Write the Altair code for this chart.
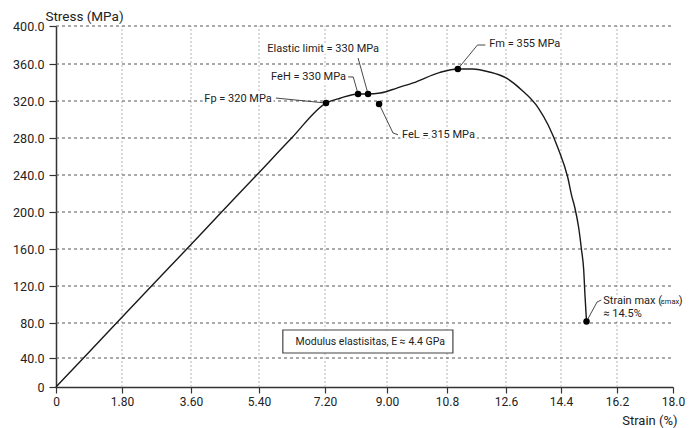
import altair as alt
import pandas as pd

# ---- axis ticks ----
x_ticks = [0, 1.8, 3.6, 5.4, 7.2, 9.0, 10.8, 12.6, 14.4, 16.2, 18.0]
x_tick_labels = ["0", "1.80", "3.60", "5.40", "7.20", "9.00", "10.8", "12.6", "14.4", "16.2", "18.0"]
y_ticks = [0, 40, 80, 120, 160, 200, 240, 280, 320, 360, 400]
y_tick_labels = ["0", "40.0", "80.0", "120.0", "160.0", "200.0", "240.0", "280.0", "320.0", "360.0", "400.0"]

# ---- stress-strain curve ----
strain = [0, 0.75, 1.65, 2.57, 3.49, 4.41, 5.34, 6.29, 7.23, 7.64, 8.16, 8.45, 8.80, 9.30, 9.78,
          10.59, 11.13, 11.58, 12.09, 12.6, 13.11, 13.66, 13.98, 14.30, 14.62, 14.74, 14.84,
          14.97, 15.06, 15.13, 15.17, 15.22]
stress = [0, 40, 80, 120, 160, 200, 240, 280, 317.8, 323, 327.6, 327.6, 328.6, 334, 339.5,
          351, 354.6, 354.6, 351.4, 344.9, 332, 312.4, 294, 269.2, 237, 218, 205.4,
          182.7, 158.9, 137.3, 110.3, 81.7]

# ---- key points ----
pt_names = ["Fp", "FeH", "Elastic", "FeL", "Fm", "Max"]
pt_strain = [7.23, 8.16, 8.45, 8.77, 11.13, 15.22]
pt_stress = [317.8, 327.6, 327.6, 316.8, 354.6, 81.7]

# ---- leader lines (id, strain, stress) ----
lead_id = ["el", "el", "feh", "feh", "feh", "fp", "fp", "fel", "fel", "fel", "fm", "fm", "fm", "mx", "mx", "mx"]
lead_x = [8.16, 8.45, 7.87, 8.02, 8.16, 5.86, 7.23, 8.77, 9.18, 9.33, 11.13, 11.73, 11.97, 15.22, 15.56, 15.70]
lead_y = [366.3, 327.6, 346, 346, 327.6, 323.2, 317.8, 316.8, 285.4, 283.5, 354.6, 380, 380, 81.7, 102.7, 104.9]

# ---- labels ----
lab_text = ["Elastic limit = 330 MPa", "FeH = 330 MPa", "Fp = 320 MPa", "FeL = 315 MPa",
            "Fm = 355 MPa", "\u2248 14.5%"]
lab_x = [7.15, 7.81, 5.75, 9.45, 12.09, 15.76]
lab_y = [375.8, 346, 322.2, 283.5, 381, 89.7]
lab_align = ["center", "right", "right", "left", "left", "left"]

max_x = 15.76
max_y = 103.8
max_parts = ["Strain max (", "\u03b5max", ")"]

box_text = "Modulus elastisitas, E \u2248 4.4 GPa"
box_x = [6.05, 10.98]
box_y = [45.7, 72.0]

FONT = "Roboto"
INK = "#222222"

xs = alt.Scale(domain=x_ticks, range=[0, 66, 135, 203, 269, 331, 391, 450, 505, 561, 617],
               nice=False, zero=False)
ys = alt.Scale(domain=y_ticks, range=[361, 332, 297, 260, 223, 186, 149, 112, 75, 38, 0],
               nice=False, zero=False)

x_label_expr = "[" + ",".join("'%s'" % s for s in x_tick_labels) + "][indexof([" + \
    ",".join(str(v) for v in x_ticks) + "], datum.value)]"
y_label_expr = "[" + ",".join("'%s'" % s for s in y_tick_labels) + "][indexof([" + \
    ",".join(str(v) for v in y_ticks) + "], datum.value)]"

x_axis = alt.Axis(values=x_ticks, labelExpr=x_label_expr, title="Strain (%)", grid=False,
                  domainColor="#333333", domainWidth=1.5, tickColor="#333333", tickSize=6,
                  tickWidth=1.2, labelFont=FONT, labelFontSize=12, labelColor=INK, labelPadding=3,
                  labelFlush=False, labelOverlap=False,
                  titleFont=FONT, titleFontSize=13, titleFontWeight="normal", titleColor=INK,
                  titleAlign="right", titleBaseline="middle", titleX=621, titleY=33)
y_axis = alt.Axis(values=y_ticks, labelExpr=y_label_expr, title="Stress (MPa)", grid=False,
                  domainColor="#333333", domainWidth=1.5, tickColor="#333333", tickSize=7,
                  tickWidth=1.2, labelFont=FONT, labelFontSize=12.5, labelColor=INK, labelPadding=5,
                  labelFlush=False, labelOverlap=False,
                  titleFont=FONT, titleFontSize=13.5, titleFontWeight="normal", titleColor=INK,
                  titleAngle=0, titleAlign="center", titleBaseline="top", titleX=28, titleY=-17)


def X(field=None, **kw):
    if field is None:
        return alt.X(scale=xs, axis=x_axis, **kw)
    return alt.X(field, type="quantitative", scale=xs, axis=x_axis)


def Y(field=None, **kw):
    if field is None:
        return alt.Y(scale=ys, axis=y_axis, **kw)
    return alt.Y(field, type="quantitative", scale=ys, axis=y_axis)


curve_df = pd.DataFrame({"x": strain, "y": stress})
pts_df = pd.DataFrame({"name": pt_names, "x": pt_strain, "y": pt_stress})
lead_df = pd.DataFrame({"id": lead_id, "x": lead_x, "y": lead_y, "o": list(range(len(lead_x)))})
lab_df = pd.DataFrame({"t": lab_text, "x": lab_x, "y": lab_y, "a": lab_align})
vgrid_df = pd.DataFrame({"x": x_ticks[1:-1]})
hgrid_df = pd.DataFrame({"y": y_ticks[1:]})
box_df = pd.DataFrame({"x": [box_x[0]], "x2": [box_x[1]], "y": [box_y[0]], "y2": [box_y[1]],
                       "t": [box_text], "xc": [(box_x[0] + box_x[1]) / 2], "yc": [(box_y[0] + box_y[1]) / 2]})
max_df = pd.DataFrame({"x": [max_x], "y": [max_y], "t0": [max_parts[0]], "t1": [max_parts[1]],
                       "t2": [max_parts[2]]})

vgrid = alt.Chart(vgrid_df).mark_rule(color="#b5b5b5", strokeDash=[2, 2], strokeWidth=1).encode(
    x=X("x"), y=Y(datum=0), y2=alt.Y2(datum=400))
hgrid = alt.Chart(hgrid_df).mark_rule(color="#555555", strokeDash=[3, 3], strokeWidth=1).encode(
    y=Y("y"), x=X(datum=0), x2=alt.X2(datum=18))

box = alt.Chart(box_df).mark_rect(fill="white", stroke="#444444", strokeWidth=1.2).encode(
    x=X("x"), x2="x2", y=Y("y"), y2="y2")
box_lbl = alt.Chart(box_df).mark_text(font=FONT, fontSize=10.5, color=INK, align="center",
                                      baseline="middle").encode(x=X("xc"), y=Y("yc"), text="t:N")

curve = alt.Chart(curve_df).mark_line(color="#1a1a1a", strokeWidth=1.4, interpolate="monotone").encode(
    x=X("x"), y=Y("y"))

leaders = alt.Chart(lead_df).mark_line(color="#333333", strokeWidth=0.9).encode(
    x=X("x"), y=Y("y"), detail="id:N", order="o:Q")

dots = alt.Chart(pts_df).mark_circle(color="black", size=42, opacity=1).encode(x=X("x"), y=Y("y"))


def label_layers(halo):
    layers = []
    style = dict(font=FONT, baseline="middle")
    if halo:
        style.update(color="white", stroke="white", strokeWidth=5, strokeJoin="round")
    else:
        style.update(color=INK)
    for al in ["left", "center", "right"]:
        layers.append(
            alt.Chart(lab_df).transform_filter(alt.datum.a == al).mark_text(
                fontSize=11, align=al, **style).encode(x=X("x"), y=Y("y"), text="t:N"))
    base = alt.Chart(max_df)
    layers.append(base.mark_text(fontSize=11, align="left", **style).encode(
        x=X("x"), y=Y("y"), text="t0:N"))
    layers.append(base.mark_text(fontSize=7.5, align="left", dx=57.5, dy=1, **style).encode(
        x=X("x"), y=Y("y"), text="t1:N"))
    layers.append(base.mark_text(fontSize=11, align="left", dx=75.5, **style).encode(
        x=X("x"), y=Y("y"), text="t2:N"))
    return layers


chart = alt.layer(vgrid, hgrid, box, box_lbl, curve, leaders, dots,
                  *label_layers(True), *label_layers(False)).properties(
    width=617, height=361,
    padding={"left": 48, "top": 18, "right": 12, "bottom": 41},
    autosize=alt.AutoSizeParams(type="none"),
    background="white",
).configure_view(stroke=None)

chart.save("out.html", embed_options={"renderer": "svg", "actions": False})
